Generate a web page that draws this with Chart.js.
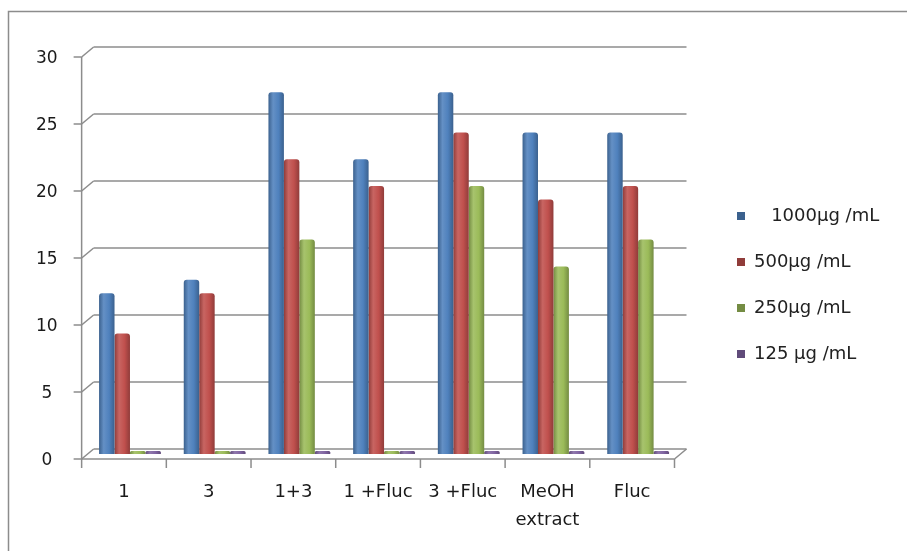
<!DOCTYPE html>
<html>
<head>
<meta charset="utf-8">
<script src="https://cdn.jsdelivr.net/npm/chart.js@4/dist/chart.umd.min.js"></script>
<style>
  html, body { margin: 0; padding: 0; background: #ffffff; }
  #wrap { width: 907px; height: 551px; }
</style>
</head>
<body>
<div id="wrap"><canvas id="chart" width="907" height="551"></canvas></div>
<script>
// Categories and measured values per concentration
const categories = ['1', '3', '1+3', '1 +Fluc', '3 +Fluc', ['MeOH', 'extract'], 'Fluc'];
const seriesNames = ['   1000µg /mL', '500µg /mL', '250µg /mL', '125 µg /mL'];
const conc1000 = [12, 13, 27, 22, 27, 24, 24];
const conc500 = [9, 12, 22, 20, 24, 19, 20];
const conc250 = [0, 0, 16, 0, 20, 14, 16];
const conc125 = [0, 0, 0, 0, 0, 0, 0];
const yTicks = [0, 5, 10, 15, 20, 25, 30];

const seriesColors = ['#4f81bd', '#c0504d', '#9bbb59', '#8064a2'];
const CAT_PCT = 0.73;
const DEPTH_X = 6, DEPTH_Y = 5;   // half-depth of the pseudo-3D walls
const LINE_GREY = '#8c8c8c';
const LEGEND_GAP = 28.5;          // space between plot and legend
const LEGEND_TOP = 179;           // top of the legend box

function shade(hex, f) {
  const n = parseInt(hex.slice(1), 16);
  let r = n >> 16, g = (n >> 8) & 255, b = n & 255;
  const t = f < 0 ? 0 : 255, p = Math.abs(f);
  r = Math.round(r + (t - r) * p);
  g = Math.round(g + (t - g) * p);
  b = Math.round(b + (t - b) * p);
  return 'rgb(' + r + ',' + g + ',' + b + ')';
}

// Cylinder-like horizontal shading for each column
function barFill(c) {
  const base = seriesColors[c.datasetIndex];
  const chart = c.chart;
  const xs = chart.scales && chart.scales.x;
  if (c.type !== 'data' || !xs || !chart.chartArea) return base;
  const n = seriesNames.length;
  const w = xs.width / categories.length * CAT_PCT / n;
  const cx = xs.getPixelForValue(c.dataIndex) + (c.datasetIndex - (n - 1) / 2) * w;
  const g = chart.ctx.createLinearGradient(cx - w / 2, 0, cx + w / 2, 0);
  g.addColorStop(0, shade(base, -0.25));
  g.addColorStop(0.3, shade(base, 0.12));
  g.addColorStop(0.65, base);
  g.addColorStop(1, shade(base, -0.25));
  return g;
}

// Back wall gridlines, side wall, floor and outer frame
const wallPlugin = {
  id: 'wall',
  beforeDraw(chart) {
    const ctx = chart.ctx;
    ctx.save();
    ctx.strokeStyle = LINE_GREY;
    ctx.lineWidth = 1.5;
    ctx.strokeRect(8.5, 11.5, 1200, 1200);
    ctx.restore();
  },
  beforeDatasetsDraw(chart) {
    const ctx = chart.ctx;
    const { left, right } = chart.chartArea;
    const x = chart.scales.x, y = chart.scales.y;
    const seg = (x1, y1, x2, y2) => { ctx.beginPath(); ctx.moveTo(x1, y1); ctx.lineTo(x2, y2); ctx.stroke(); };
    ctx.save();
    ctx.strokeStyle = LINE_GREY;
    ctx.lineWidth = 1.5;
    yTicks.forEach(v => {
      const py = y.getPixelForValue(v);
      seg(left + DEPTH_X, py - DEPTH_Y, right + DEPTH_X, py - DEPTH_Y);
      seg(left - DEPTH_X, py + DEPTH_Y, left + DEPTH_X, py - DEPTH_Y);
      seg(left - DEPTH_X - 8, py + DEPTH_Y, left - DEPTH_X, py + DEPTH_Y);
    });
    const top = y.getPixelForValue(yTicks[yTicks.length - 1]);
    const p0 = y.getPixelForValue(0);
    seg(left - DEPTH_X, top + DEPTH_Y, left - DEPTH_X, p0 + DEPTH_Y);
    seg(left - DEPTH_X, p0 + DEPTH_Y, right - DEPTH_X, p0 + DEPTH_Y);
    seg(right - DEPTH_X, p0 + DEPTH_Y, right + DEPTH_X, p0 - DEPTH_Y);
    const catW = (x.right - x.left) / categories.length;
    for (let i = 0; i <= categories.length; i++) {
      const px = x.left + i * catW - DEPTH_X;
      seg(px, p0 + DEPTH_Y, px, p0 + DEPTH_Y + 9);
    }
    ctx.restore();
  }
};

// Moves the legend box away from the plot and down to mid height
const legendPlacement = {
  id: 'legendPlacement',
  afterLayout(chart) {
    const lg = chart.legend;
    if (!lg) return;
    lg.left = chart.chartArea.right + LEGEND_GAP;
    lg.right = chart.width;
    lg.width = lg.right - lg.left;
    lg.top = LEGEND_TOP;
    lg.bottom = chart.height;
    lg.height = lg.bottom - lg.top;
  }
};

const seriesData = [conc1000, conc500, conc250, conc125];

new Chart(document.getElementById('chart'), {
  type: 'bar',
  data: {
    labels: categories,
    datasets: seriesNames.map((name, i) => ({
      label: name,
      data: seriesData[i],
      backgroundColor: barFill,
      borderWidth: 0,
      borderRadius: { topLeft: 3, topRight: 3, bottomLeft: 0, bottomRight: 0 },
      borderSkipped: false,
      minBarLength: 3,
      categoryPercentage: CAT_PCT,
      barPercentage: 1.0
    }))
  },
  options: {
    responsive: false,
    devicePixelRatio: 1,
    animation: false,
    layout: { padding: { top: 52, left: 6, right: 56.5, bottom: 0 } },
    plugins: {
      tooltip: { enabled: false },
      legend: {
        position: 'right',
        align: 'start',
        maxWidth: 170,
        labels: {
          boxWidth: 8,
          boxHeight: 8,
          padding: 28,
          color: '#222222',
          font: { family: 'DejaVu Sans', size: 18 }
        }
      }
    },
    scales: {
      x: {
        grid: { display: false, drawTicks: false },
        border: { display: false },
        ticks: {
          padding: 23.5,
          labelOffset: -DEPTH_X,
          maxRotation: 0,
          autoSkip: false,
          color: '#1a1a1a',
          font: { family: 'DejaVu Sans', size: 18, lineHeight: 1.6 }
        },
        afterFit(s) { s.height = 97; }
      },
      y: {
        min: 0,
        max: 30,
        grid: { display: false, drawTicks: false },
        border: { display: false },
        afterBuildTicks(s) { s.ticks = yTicks.map(v => ({ value: v })); },
        ticks: {
          padding: 30,
          crossAlign: 'center',
          labelOffset: DEPTH_Y + 2,
          color: '#1a1a1a',
          font: { family: 'DejaVu Sans', size: 17 }
        }
      }
    }
  },
  plugins: [wallPlugin, legendPlacement]
});
</script>
</body>
</html>
